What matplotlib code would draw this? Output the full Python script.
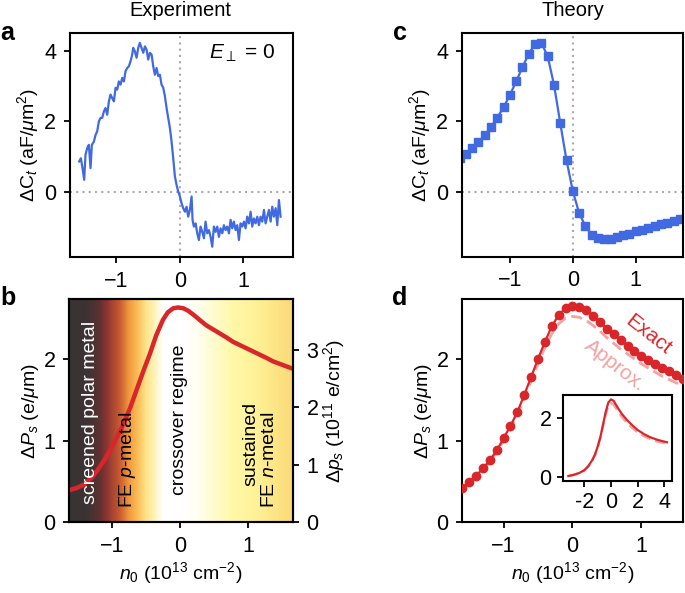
import numpy as np
import matplotlib
matplotlib.use('Agg')
import matplotlib.pyplot as plt
from matplotlib.colors import LinearSegmentedColormap

plt.rcParams.update({'font.family': ['Liberation Sans', 'DejaVu Sans'],
                     'font.size': 14,
                     'xtick.labelsize': 15.5,
                     'ytick.labelsize': 15.5,
                     'mathtext.fontset': 'custom',
                     'mathtext.rm': 'Liberation Sans',
                     'mathtext.it': 'Liberation Sans:italic',
                     'mathtext.bf': 'Liberation Sans:bold',
                     'axes.linewidth': 1.5,
                     'xtick.major.width': 1.3,
                     'ytick.major.width': 1.3,
                     'xtick.major.size': 4,
                     'ytick.major.size': 4,
                     'xtick.major.pad': 6,
                     'ytick.major.pad': 6})

# ---- panel a: experiment, noisy capacitance trace
exp_n0 = [-1.585, -1.559, -1.533, -1.507, -1.486, -1.459, -1.433, -1.407, -1.386, -1.354,
          -1.328, -1.302, -1.276, -1.249, -1.223, -1.197, -1.171, -1.144, -1.118, -1.092,
          -1.066, -1.039, -1.013, -0.987, -0.961, -0.934, -0.908, -0.882, -0.856, -0.829,
          -0.803, -0.777, -0.751, -0.735, -0.709, -0.682, -0.656, -0.630, -0.604, -0.577,
          -0.551, -0.525, -0.499, -0.472, -0.446, -0.420, -0.394, -0.367, -0.341, -0.315,
          -0.289, -0.262, -0.236, -0.210, -0.184, -0.157, -0.131, -0.105, -0.079, -0.052,
          -0.026, 0.000, 0.026, 0.052, 0.079, 0.105, 0.131, 0.157, 0.184, 0.199,
          0.220, 0.247, 0.273, 0.299, 0.325, 0.352, 0.378, 0.404, 0.430, 0.457,
          0.483, 0.509, 0.535, 0.562, 0.588, 0.614, 0.640, 0.667, 0.693, 0.719,
          0.745, 0.772, 0.798, 0.824, 0.850, 0.877, 0.903, 0.929, 0.955, 0.982,
          1.008, 1.034, 1.060, 1.087, 1.113, 1.139, 1.165, 1.192, 1.218, 1.244,
          1.270, 1.297, 1.323, 1.349, 1.375, 1.402, 1.428, 1.454, 1.480, 1.507,
          1.533, 1.559, 1.585]
exp_dC = [0.87, 0.96, 0.68, 0.35, 1.06, 1.25, 1.34, 0.68, 1.34, 1.43,
          1.62, 1.72, 2.00, 2.10, 2.10, 2.28, 2.38, 2.19, 2.57, 2.76,
          2.66, 2.57, 2.95, 2.90, 3.13, 3.04, 3.23, 3.13, 3.42, 3.51,
          3.56, 3.70, 3.89, 4.08, 3.98, 3.80, 4.08, 4.22, 4.08, 3.94,
          4.12, 4.03, 3.75, 3.94, 3.89, 3.56, 3.32, 3.51, 3.28, 3.32,
          3.04, 2.95, 2.71, 2.38, 2.10, 1.81, 1.43, 0.96, 0.45, 0.20,
          0.02, -0.12, -0.31, -0.45, -0.55, -0.41, -0.69, -0.50, -0.12, -0.78,
          -0.97, -0.88, -1.16, -1.35, -0.97, -1.12, -1.30, -0.83, -1.16, -1.07,
          -1.26, -1.54, -0.97, -1.12, -0.97, -1.26, -1.02, -1.16, -0.93, -1.07,
          -0.97, -1.16, -0.78, -1.02, -0.83, -1.07, -0.93, -1.35, -0.88, -0.97,
          -0.83, -1.02, -0.69, -0.88, -0.55, -0.97, -0.74, -0.88, -0.69, -0.93,
          -0.69, -0.83, -0.50, -0.88, -0.69, -0.50, -0.83, -0.41, -0.69, -0.45,
          -0.93, -0.22, -0.69]

# ---- panel c: theory capacitance
th_n0 = [-1.8, -1.7, -1.6, -1.5, -1.4, -1.3, -1.2, -1.1, -1.0, -0.9, -0.8, -0.7, -0.6,
         -0.5, -0.4, -0.3, -0.2, -0.1, 0.0, 0.1, 0.2, 0.3, 0.4, 0.5, 0.6, 0.7,
         0.8, 0.9, 1.0, 1.1, 1.2, 1.3, 1.4, 1.5, 1.6, 1.7, 1.8]
th_dC = [0.95, 1.08, 1.23, 1.42, 1.60, 1.83, 2.10, 2.40, 2.74, 3.13, 3.53, 3.91, 4.19,
         4.22, 3.84, 3.04, 1.95, 0.89, 0.02, -0.60, -0.97, -1.21, -1.30, -1.33, -1.33, -1.28,
         -1.23, -1.18, -1.12, -1.07, -1.02, -0.97, -0.92, -0.87, -0.82, -0.78, -0.73]

# ---- panel b: polarization over density, with regime background
pol_n0 = [-1.65, -1.52, -1.42, -1.32, -1.23, -1.13, -1.03, -0.93, -0.83, -0.73,
          -0.64, -0.54, -0.44, -0.35, -0.25, -0.18, -0.10, -0.03, 0.05, 0.12,
          0.20, 0.30, 0.39, 0.49, 0.59, 0.69, 0.78, 0.88, 0.98, 1.08,
          1.18, 1.28, 1.37, 1.50, 1.66]
pol_dP = [0.39, 0.42, 0.46, 0.53, 0.62, 0.74, 0.88, 1.04, 1.21, 1.41,
          1.62, 1.85, 2.07, 2.29, 2.48, 2.57, 2.62, 2.63, 2.62, 2.59,
          2.54, 2.47, 2.41, 2.36, 2.31, 2.26, 2.21, 2.17, 2.13, 2.09,
          2.05, 2.01, 1.97, 1.93, 1.88]

# background colour stops (n0 position, colour)
bg_pos = [-1.63, -1.38, -1.19, -1.09, -0.89, -0.75, -0.62, -0.50, -0.38, -0.25,
          0.05, 0.28, 0.77, 1.07, 1.26, 1.66]
bg_col = ['#3a3434', '#3c3333', '#5c3131', '#8b3333', '#c85a30', '#f19a3e', '#fbbf58',
          '#fde48a', '#fff3b5', '#ffffff', '#ffffff', '#fffeee', '#fff8a8', '#fff39a',
          '#feec8e', '#fcd977']

# ---- panel d: theory polarization, exact vs approx
d_n0 = [-1.7, -1.6, -1.5, -1.4, -1.3, -1.2, -1.1, -1.0, -0.9, -0.8, -0.7, -0.6,
        -0.5, -0.4, -0.3, -0.2, -0.1, 0.0, 0.1, 0.2, 0.3, 0.4, 0.5, 0.6,
        0.7, 0.8, 0.9, 1.0, 1.1, 1.2, 1.3, 1.4, 1.5, 1.6, 1.7]
d_exact = [0.36, 0.42, 0.49, 0.57, 0.66, 0.76, 0.88, 1.03, 1.18, 1.35, 1.56, 1.78,
           2.00, 2.21, 2.40, 2.54, 2.62, 2.65, 2.64, 2.60, 2.53, 2.45, 2.37, 2.30,
           2.23, 2.16, 2.10, 2.04, 1.99, 1.94, 1.89, 1.85, 1.80, 1.76, 1.72]
d_approx = [0.35, 0.41, 0.48, 0.56, 0.64, 0.74, 0.86, 1.00, 1.15, 1.32, 1.52, 1.73,
            1.94, 2.14, 2.31, 2.43, 2.50, 2.52, 2.51, 2.47, 2.41, 2.34, 2.26, 2.19,
            2.12, 2.06, 2.00, 1.94, 1.89, 1.84, 1.79, 1.75, 1.71, 1.67, 1.63]

# inset, wider density range
ins_n0 = [-3.2, -2.8, -2.4, -2.0, -1.7, -1.4, -1.2, -1.0, -0.8, -0.6, -0.4, -0.2,
          0.0, 0.2, 0.5, 0.8, 1.2, 1.6, 2.0, 2.5, 3.0, 3.5, 4.0, 4.2]
ins_exact = [0.02, 0.06, 0.12, 0.22, 0.36, 0.57, 0.76, 1.03, 1.35, 1.78, 2.21, 2.54,
             2.65, 2.60, 2.37, 2.16, 1.94, 1.76, 1.60, 1.45, 1.34, 1.26, 1.20, 1.18]
ins_approx = [0.02, 0.06, 0.12, 0.21, 0.35, 0.56, 0.74, 1.00, 1.32, 1.73, 2.14, 2.43,
              2.52, 2.47, 2.26, 2.06, 1.84, 1.67, 1.52, 1.38, 1.28, 1.20, 1.15, 1.13]

blue = '#4169e1'
red = '#d9262a'
pink = '#f2a3a3'
dot_kw = dict(color='#aaaaaa', linestyle=(0, (1, 2)), linewidth=1.5, zorder=1)

fig = plt.figure(figsize=(6.85, 5.93), dpi=100)

ax_a = fig.add_axes([0.1022, 0.5666, 0.3255, 0.3778])
ax_c = fig.add_axes([0.6745, 0.5674, 0.3226, 0.3770])
ax_b = fig.add_axes([0.1012, 0.1192, 0.3261, 0.3761])
ax_d = fig.add_axes([0.6749, 0.1192, 0.3226, 0.3761])

# panel a
ax_a.axhline(0, **dot_kw)
ax_a.axvline(0, **dot_kw)
ax_a.plot(exp_n0, exp_dC, color=blue, lw=1.6, zorder=2)
ax_a.set_xlim(-1.73, 1.78)
ax_a.set_ylim(-1.83, 4.5)
ax_a.set_xticks([-1, 0, 1])
ax_a.set_yticks([0, 2, 4])
ax_a.set_ylabel(r'$\Delta\mathrm{C}_t$ (aF/$\mu$m$^2$)', labelpad=2)
ax_a.text(0.92, 0.91, r'$E_\perp$ = 0', transform=ax_a.transAxes, ha='right', va='center',
          fontsize=15)

# panel c
ax_c.axhline(0, **dot_kw)
ax_c.axvline(0, **dot_kw)
ax_c.plot(th_n0, th_dC, color=blue, lw=1.6, marker='s', ms=5.5, zorder=2)
ax_c.set_xlim(-1.76, 1.75)
ax_c.set_ylim(-1.83, 4.5)
ax_c.set_xticks([-1, 0, 1])
ax_c.set_yticks([0, 2, 4])
ax_c.set_ylabel(r'$\Delta\mathrm{C}_t$ (aF/$\mu$m$^2$)', labelpad=2)

# panel b
bxlim = (-1.63, 1.66)
bylim = (0, 2.73)
cmap = LinearSegmentedColormap.from_list(
    'regimes', [((p - bg_pos[0]) / (bg_pos[-1] - bg_pos[0]), c) for p, c in zip(bg_pos, bg_col)])
grad = np.linspace(0, 1, 400).reshape(1, -1)
ax_b.imshow(grad, cmap=cmap, aspect='auto', extent=[bg_pos[0], bg_pos[-1], bylim[0], bylim[1]],
            zorder=0)
ax_b.plot(pol_n0, pol_dP, color=red, lw=3.2, zorder=3)
ax_b.set_xlim(*bxlim)
ax_b.set_ylim(*bylim)
ax_b.set_xticks([-1, 0, 1])
ax_b.set_yticks([0, 1, 2])
ax_b.set_ylabel(r'$\Delta P_s$ (e/$\mu$m)', labelpad=2)
ax_b.set_xlabel(r'$n_0$ (10$^{13}$ cm$^{-2}$)', labelpad=2)
ax_b.text(-1.32, 0.22, 'screened polar metal', rotation=90, color='white',
          ha='center', va='bottom', zorder=4)
ax_b.text(-0.78, 0.17, r'FE $p$-metal', rotation=90, ha='center', va='bottom', zorder=4)
ax_b.text(0.0, 0.34, 'crossover regime', rotation=90, ha='center', va='bottom', zorder=4)
ax_b.text(1.05, 0.44, 'sustained', rotation=90, ha='center', va='bottom', zorder=4)
ax_b.text(1.32, 0.17, r'FE $n$-metal', rotation=90, ha='center', va='bottom', zorder=4)

ax_b2 = ax_b.twinx()
ax_b2.set_ylim(0, 3.88)
ax_b2.set_yticks([0, 1, 2, 3])
ax_b2.set_ylabel(r'$\Delta p_s$ (10$^{11}$ e/cm$^2$)', labelpad=2)

# panel d
ax_d.plot(d_n0, d_approx, color=pink, lw=2, linestyle=(0, (4, 2)), zorder=2)
ax_d.plot(d_n0, d_exact, color=red, lw=1.6, marker='o', ms=6, zorder=3)
ax_d.set_xlim(-1.6, 1.61)
ax_d.set_ylim(0, 2.73)
ax_d.set_xticks([-1, 0, 1])
ax_d.set_yticks([0, 1, 2])
ax_d.set_ylabel(r'$\Delta P_s$ (e/$\mu$m)', labelpad=2)
ax_d.set_xlabel(r'$n_0$ (10$^{13}$ cm$^{-2}$)', labelpad=2)
ax_d.text(1.10, 2.30, 'Exact', color=red, rotation=-38, ha='center', va='center', fontsize=15)
ax_d.text(0.62, 1.92, 'Approx.', color=pink, rotation=-38, ha='center', va='center', fontsize=15)

ax_in = fig.add_axes([0.8215, 0.1894, 0.16, 0.1445])
ax_in.plot(ins_n0, ins_approx, color=pink, lw=1.8, linestyle=(0, (4, 2)))
ax_in.plot(ins_n0, ins_exact, color=red, lw=1.6)
ax_in.set_xlim(-3.62, 4.6)
ax_in.set_ylim(-0.14, 2.8)
ax_in.set_xticks([-2, 0, 2, 4])
ax_in.set_xticklabels(['-2', '0', '2', '4'])
ax_in.set_yticks([0, 2])
ax_in.tick_params(pad=4)

# titles and panel letters
fig.text(0.263, 0.983, 'Experiment', ha='center', va='center', fontsize=14.5)
fig.text(0.836, 0.983, 'Theory', ha='center', va='center', fontsize=14.5)
for lab, x, y in [('a', 0.011, 0.944), ('b', 0.011, 0.497), ('c', 0.584, 0.944), ('d', 0.584, 0.497)]:
    fig.text(x, y, lab, ha='center', va='center', fontsize=18, fontweight='bold')

fig.savefig('out.png', dpi=100)
